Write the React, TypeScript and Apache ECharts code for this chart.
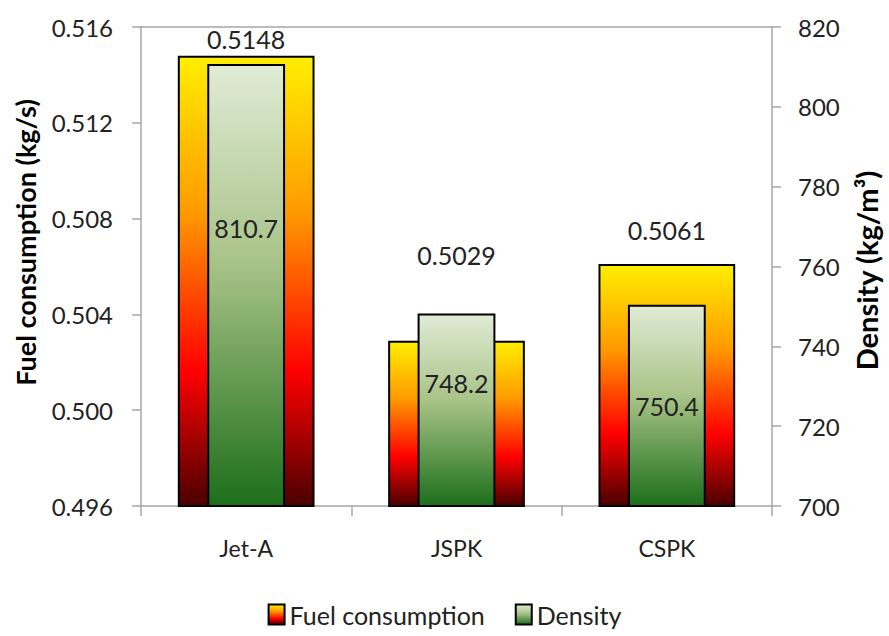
import React, { useEffect, useRef } from "react";
import * as echarts from "echarts";

const categories = ["Jet-A", "JSPK", "CSPK"];
const fuelConsumption = [0.5148, 0.5029, 0.5061];
const density = [810.7, 748.2, 750.4];
const fuelTicks = { min: 0.496, max: 0.516, interval: 0.004 };
const densityTicks = { min: 700, max: 820, interval: 20 };

// label placement tweaks (layout, not data)
const fuelLabelOffsetY = [0, -69, -18];
const densityLabelPosY = ["37%", "36%", "50%"];

const FONT = "Lato, 'Open Sans', sans-serif";

export default function App() {
  const ref = useRef<HTMLDivElement>(null);
  useEffect(() => {
    if (!ref.current) return;
    const chart = echarts.init(ref.current, null, { renderer: "svg" });
    const fuelGrad = new echarts.graphic.LinearGradient(0, 0, 0, 1, [
      { offset: 0, color: "#ffee00" },
      { offset: 0.35, color: "#ff9900" },
      { offset: 0.7, color: "#ff0000" },
      { offset: 1, color: "#4a0000" },
    ]);
    const densGrad = new echarts.graphic.LinearGradient(0, 0, 0, 1, [
      { offset: 0, color: "#e0ebd5" },
      { offset: 0.45, color: "#a8c387" },
      { offset: 1, color: "#1c6e1a" },
    ]);
    const axisGray = "#a6a6a6";
    chart.setOption({
      animation: false,
      textStyle: { fontFamily: FONT },
      grid: { left: 141, right: 112, top: 27, bottom: 130 },
      legend: {
        bottom: 4,
        left: "center",
        itemWidth: 16,
        itemHeight: 20,
        itemGap: 30,
        textStyle: { fontFamily: FONT, fontSize: 25, color: "#222" },
        data: [
          { name: "Fuel consumption", icon: "rect" },
          { name: "Density", icon: "rect" },
        ],
      },
      xAxis: [
        {
          type: "category",
          data: categories,
          axisLine: { lineStyle: { color: axisGray, width: 1.5 } },
          axisTick: { show: true, length: 10, lineStyle: { color: axisGray, width: 1.5 } },
          axisLabel: { fontFamily: FONT, fontSize: 23, color: "#222", margin: 30 },
        },
        {
          type: "category",
          data: categories,
          position: "top",
          axisLine: { show: true, lineStyle: { color: axisGray, width: 1.5 } },
          axisTick: { show: false },
          axisLabel: { show: false },
        },
      ],
      yAxis: [
        {
          type: "value",
          ...fuelTicks,
          name: "Fuel consumption (kg/s)",
          nameLocation: "middle",
          nameRotate: 90,
          nameGap: 102,
          nameTextStyle: {
            fontFamily: FONT,
            fontSize: 27,
            fontWeight: "bold",
            color: "#000",
            padding: [0, 0, 0, 48],
          },
          axisLine: { show: true, lineStyle: { color: axisGray, width: 1.5 } },
          axisTick: { show: true, length: 9, lineStyle: { color: axisGray, width: 1.5 } },
          splitLine: { show: false },
          axisLabel: {
            fontFamily: FONT,
            fontSize: 24,
            color: "#222",
            margin: 28,
            formatter: (v: number) => v.toFixed(3),
          },
        },
        {
          type: "value",
          ...densityTicks,
          position: "right",
          name: "Density (kg/m³)",
          nameLocation: "middle",
          nameRotate: 90,
          nameGap: 80,
          nameTextStyle: {
            fontFamily: FONT,
            fontSize: 29,
            fontWeight: "bold",
            color: "#000",
            padding: [0, 8, 0, 0],
          },
          axisLine: { show: true, lineStyle: { color: axisGray, width: 1.5 } },
          axisTick: { show: true, length: 9, lineStyle: { color: axisGray, width: 1.5 } },
          splitLine: { show: false },
          axisLabel: { fontFamily: FONT, fontSize: 24, color: "#222", margin: 26 },
        },
      ],
      series: [
        {
          name: "Fuel consumption",
          type: "bar",
          xAxisIndex: 0,
          yAxisIndex: 0,
          barWidth: "65%",
          itemStyle: { color: fuelGrad, borderColor: "#000", borderWidth: 2 },
          data: fuelConsumption.map((v, i) => ({
            value: v,
            label: { offset: [0, fuelLabelOffsetY[i]] },
          })),
          label: {
            show: true,
            position: "top",
            distance: 4,
            fontFamily: FONT,
            fontSize: 25,
            color: "#222",
            formatter: (p: any) => p.value.toFixed(4),
          },
        },
        {
          name: "Density",
          type: "bar",
          xAxisIndex: 1,
          yAxisIndex: 1,
          barWidth: "37%",
          itemStyle: { color: densGrad, borderColor: "#000", borderWidth: 2 },
          data: density.map((v, i) => ({
            value: v,
            label: { position: ["50%", densityLabelPosY[i]] },
          })),
          label: {
            show: true,
            align: "center",
            verticalAlign: "middle",
            fontFamily: FONT,
            fontSize: 25,
            color: "#222",
            formatter: (p: any) => p.value.toFixed(1),
          },
        },
      ],
    });
    return () => chart.dispose();
  }, []);
  return (
    <div
      ref={ref}
      style={{ position: "absolute", left: 0, top: 0, width: 889, height: 636, background: "#fff" }}
    />
  );
}
